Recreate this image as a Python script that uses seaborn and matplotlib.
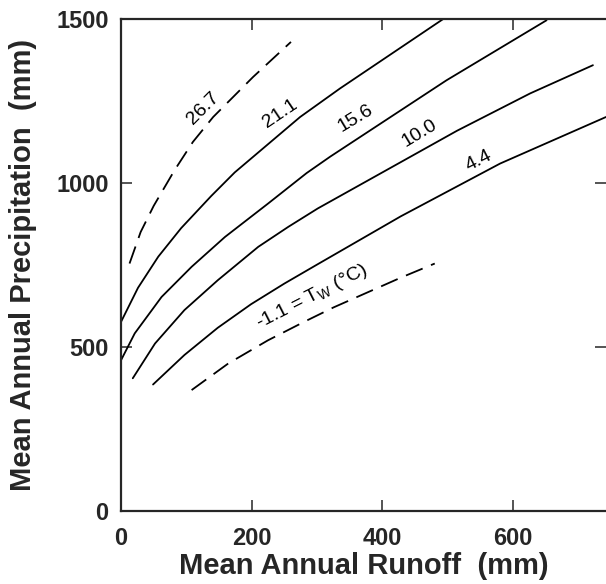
import matplotlib
matplotlib.use("Agg")
import matplotlib.pyplot as plt
import seaborn as sns
import pandas as pd

# isotherm curves (runoff mm, precipitation mm)
runoff_267 = [13, 30, 50, 82, 110, 141, 202, 260]
precip_267 = [754, 850, 930, 1039, 1125, 1201, 1323, 1430]

runoff_211 = [0, 26, 57, 92, 138, 174, 274, 335, 493]
precip_211 = [576, 680, 775, 862, 960, 1032, 1201, 1288, 1500]

runoff_156 = [0, 21, 62, 108, 159, 225, 284, 320, 498, 651]
precip_156 = [459, 541, 652, 744, 835, 937, 1030, 1080, 1313, 1496]

runoff_100 = [18, 52, 97, 148, 210, 256, 301, 514, 626, 722]
precip_100 = [404, 510, 612, 703, 805, 866, 922, 1159, 1273, 1359]

runoff_44 = [49, 97, 148, 199, 250, 301, 428, 580, 742]
precip_44 = [385, 475, 558, 630, 693, 752, 898, 1059, 1201]

runoff_m11 = [108, 164, 225, 280, 325, 376, 427, 480]
precip_m11 = [368, 449, 520, 576, 620, 665, 710, 754]

curve_names = ["26.7", "21.1", "15.6", "10.0", "4.4", "-1.1"]
curve_dashed = [True, False, False, False, False, True]

x_ticks = [0, 200, 400, 600]
y_ticks = [0, 500, 1000, 1500]

frames = []
for name, xs, ys in zip(curve_names,
                        [runoff_267, runoff_211, runoff_156, runoff_100, runoff_44, runoff_m11],
                        [precip_267, precip_211, precip_156, precip_100, precip_44, precip_m11]):
    frames.append(pd.DataFrame({"runoff": xs, "precip": ys, "tw": name}))
df = pd.concat(frames, ignore_index=True)

sns.set_theme(style="ticks")
plt.rcParams["font.family"] = ["Liberation Sans", "DejaVu Sans"]

fig = plt.figure(figsize=(6.06, 5.84), dpi=100)
ax = fig.add_axes([0.1997, 0.1255, 0.8003, 0.842])

for name, dashed in zip(curve_names, curve_dashed):
    sub = df[df["tw"] == name]
    sns.lineplot(data=sub, x="runoff", y="precip", ax=ax, color="black",
                 lw=1.3, sort=False, estimator=None)
    if dashed:
        ax.lines[-1].set_dashes((10, 5))

ax.set_xlim(0, 742)
ax.set_ylim(0, 1500)
ax.set_xticks(x_ticks)
ax.set_yticks(y_ticks)
ax.tick_params(direction="in", length=8, width=1.1, top=True, right=True,
               labelsize=17, pad=12)
ax.tick_params(axis="y", pad=9)
for lbl in ax.get_xticklabels() + ax.get_yticklabels():
    lbl.set_fontweight("bold")
ax.spines["right"].set_visible(False)
for s in ["left", "bottom", "top"]:
    ax.spines[s].set_linewidth(1.6)

ax.set_xlabel("Mean Annual Runoff  (mm)", fontsize=21, fontweight="bold", labelpad=1)
ax.set_ylabel("Mean Annual Precipitation  (mm)", fontsize=21, fontweight="bold", labelpad=14)

# curve labels
labels = [("26.7", 126, 1227, 45), ("21.1", 243, 1210, 34), ("15.6", 358, 1196, 31),
          ("10.0", 457, 1151, 31), ("4.4", 547, 1066, 27),
          ("-1.1 = T$_\\mathregular{W}$ (°C)", 292, 652, 27)]
for txt, x, y, rot in labels:
    ax.text(x, y, txt, fontsize=14, rotation=rot, rotation_mode="anchor",
            ha="center", va="center", color="black")

fig.savefig("out.png", dpi=100)
